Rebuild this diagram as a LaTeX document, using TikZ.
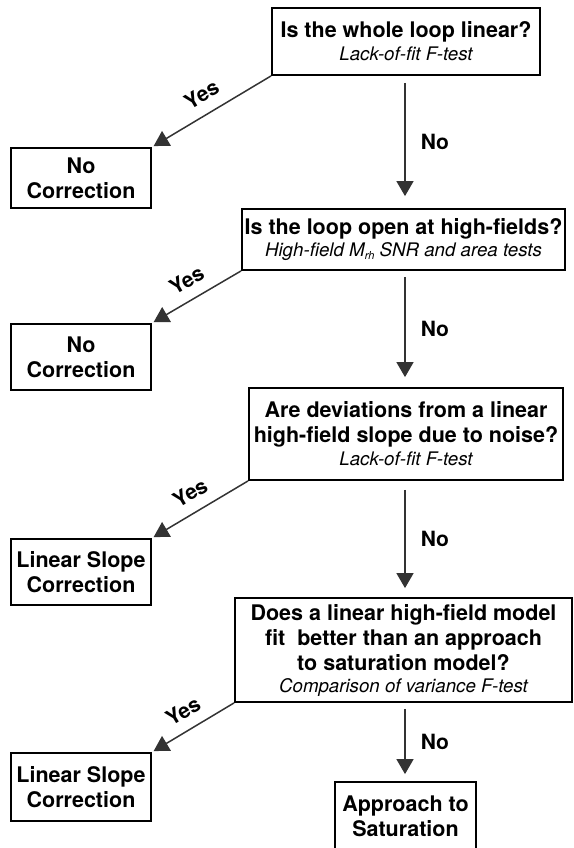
\documentclass[tikz,border=0pt]{standalone}
\usepackage{fontspec}
\setmainfont{TeX Gyre Heros}
\usetikzlibrary{arrows.meta}
\definecolor{arrowgray}{HTML}{333333}
\newcommand\testline[1]{{\mdseries\itshape\fontsize{18.7}{22}\selectfont #1}}
\newcommand\subrh{\raisebox{-3.5pt}{\fontsize{11}{11}\selectfont rh}}
\tikzset{
  box/.style={draw=black, line width=1.8pt, rectangle, inner sep=0pt, align=center,
    font=\bfseries\fontsize{21.5}{25}\selectfont},
  flow/.style={draw=arrowgray, line width=1.5pt, -{Triangle[length=15pt,width=17pt]}},
  lbl/.style={font=\bfseries\fontsize{21}{24}\selectfont, inner sep=0pt, text=black},
}
\begin{document}
\begin{tikzpicture}[x=1pt,y=-1pt]
\useasboundingbox (0,0) rectangle (573,848);
% question boxes
\node[box, minimum width=268pt, minimum height=67pt] (q1) at (406,41.5)
  {Is the whole loop linear?\\[-2pt]\testline{Lack-of-fit F-test}};
\node[box, minimum width=323pt, minimum height=61pt] (q2) at (403.5,239.5)
  {Is the loop open at high-fields?\\[-3pt]\testline{High-field M\subrh{} SNR and area tests}};
\node[box, minimum width=314pt, minimum height=92pt] (q3) at (406,434)
  {Are deviations from a linear\\high-field slope due to noise?\\[-2pt]\testline{Lack-of-fit F-test}};
\node[box, minimum width=337pt, minimum height=104pt] (q4) at (403.5,650)
  {Does a linear high-field model\\fit\ \ better than an approach\\to saturation model?\\[-3pt]\testline{Comparison of variance F-test}};
\node[box, minimum width=141pt, minimum height=68pt] (sat) at (405.5,816)
  {Approach to\\Saturation};
% outcome boxes
\node[box, minimum width=140pt, minimum height=60pt] (nc1) at (81,178) {No\\Correction};
\node[box, minimum width=140pt, minimum height=66pt] (nc2) at (81,357) {No\\Correction};
\node[box, minimum width=140pt, minimum height=66pt] (ls1) at (81,572) {Linear Slope\\Correction};
\node[box, minimum width=140pt, minimum height=68pt] (ls2) at (81,787) {Linear Slope\\Correction};
% yes arrows
\draw[flow, shorten >=2pt] (q1.south west) -- node[lbl, midway, sloped, above=11pt] {Yes} (nc1.north east);
\draw[flow, shorten >=2pt] (q2.south west) -- node[lbl, midway, sloped, above=11pt] {Yes} (nc2.north east);
\draw[flow, shorten >=2pt] (q3.south west) -- node[lbl, midway, sloped, above=11pt] {Yes} (ls1.north east);
\draw[flow, shorten >=2pt] (q4.south west) -- node[lbl, midway, sloped, above=11pt] {Yes} (ls2.north east);
% no arrows
\draw[flow, shorten <=7pt, shorten >=12pt] (405,75) coordinate (n1a) (n1a |- q1.south) -- node[lbl, midway, right=15pt] {No} (n1a |- q2.north);
\draw[flow, shorten <=6pt, shorten >=10pt] (405,270) coordinate (n2a) (n2a |- q2.south) -- node[lbl, midway, right=15pt] {No} (n2a |- q3.north);
\draw[flow, shorten <=9pt, shorten >=9pt] (405,480) coordinate (n3a) (n3a |- q3.south) -- node[lbl, midway, right=15pt] {No} (n3a |- q4.north);
\draw[flow, shorten <=6pt, shorten >=7pt] (405,702) coordinate (n4a) (n4a |- q4.south) -- node[lbl, midway, right=15pt] {No} (n4a |- sat.north);
\end{tikzpicture}
\end{document}
